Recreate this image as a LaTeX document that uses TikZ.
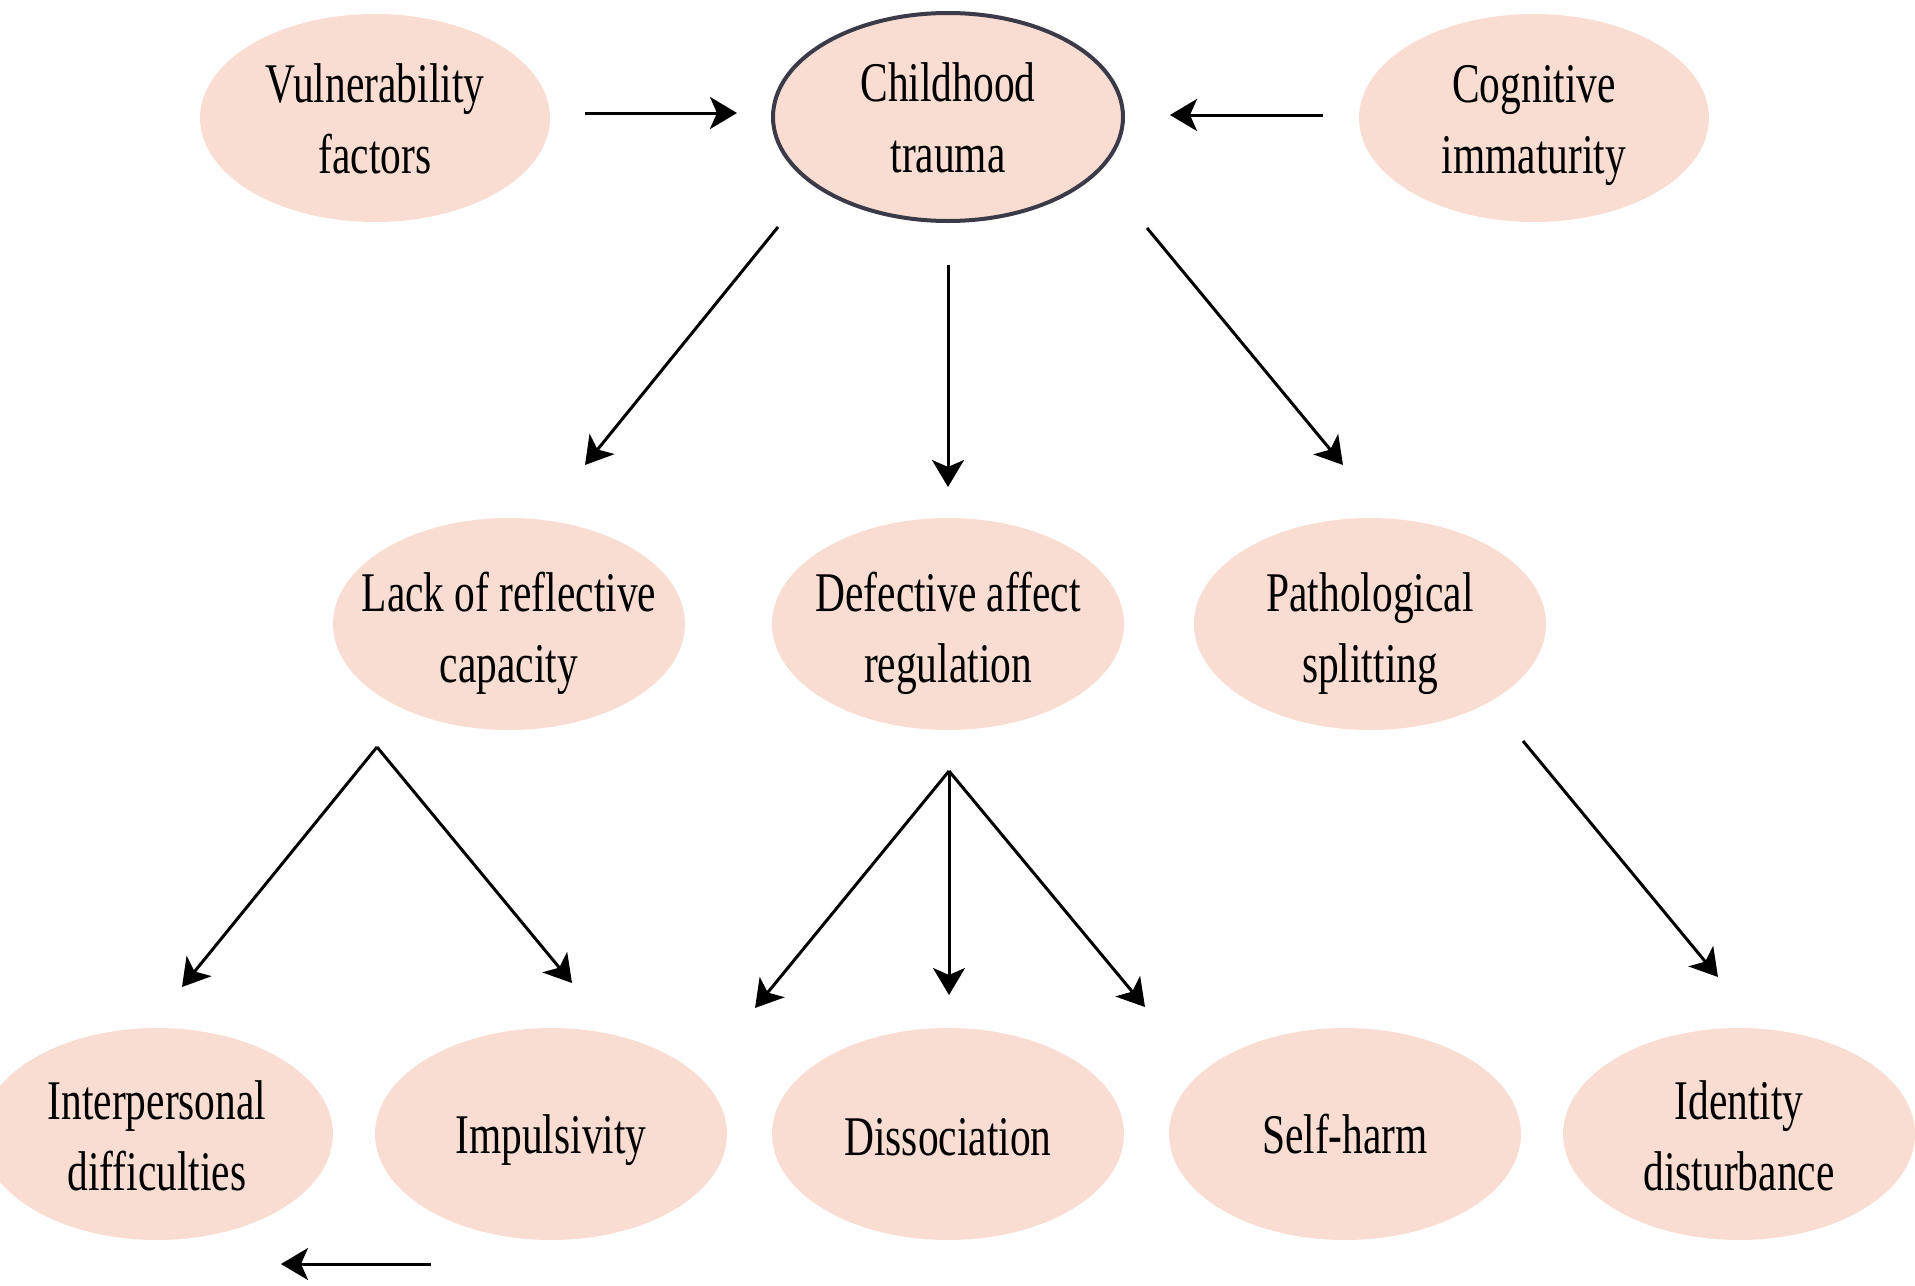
\documentclass[tikz,border=0pt]{standalone}
\usepackage{fontspec}
\newfontfamily\labelfont{Liberation Serif}[FakeStretch=0.74]
\usetikzlibrary{shapes.geometric,arrows.meta,calc}
\definecolor{peach}{RGB}{249,221,210}
\definecolor{rimgray}{RGB}{58,58,72}
% centred label of zero width, so the ellipse keeps its set size;
% the optional argument drops the lettering a little inside the shape
\newcommand\bubbletext[2][3.5pt]{%
  \makebox[0pt]{\raisebox{-#1}[\height][\depth]{%
    \begin{tabular}{@{}c@{}}#2\end{tabular}}}}
\tikzset{
  bubble/.style={ellipse, fill=peach, draw=none, inner sep=0pt,
    minimum width=176pt, minimum height=106pt,
    font=\labelfont\fontsize{28pt}{35.5pt}\selectfont},
  topbubble/.style={bubble, minimum width=175pt, minimum height=104pt},
  keybubble/.style={topbubble, draw=rimgray, line width=2pt},
  link/.style={line width=1.5pt, black,
    -{Stealth[length=13.5pt,width=16pt,inset=3.5pt]}}
}
\begin{document}
\begin{tikzpicture}[x=0.5pt,y=-0.5pt]
\useasboundingbox (0,0) rectangle (1915,1285);

% top row
\node[topbubble] (vul) at (375,118) {\bubbletext[3pt]{Vulnerability\\factors}};
\node[keybubble] (ct)  at (948,117) {\bubbletext[3pt]{Childhood\\trauma}};
\node[topbubble] (cog) at (1534,118) {\bubbletext[3pt]{Cognitive\\immaturity}};

% middle row
\node[bubble] (lrc) at (509,624) {\bubbletext[4.5pt]{Lack of reflective\\capacity}};
\node[bubble] (dar) at (948,624) {\bubbletext[4.5pt]{Defective affect\\regulation}};
\node[bubble] (ps)  at (1370,624) {\bubbletext[4.5pt]{Pathological\\splitting}};

% bottom row
\node[bubble] (ipd) at (157,1134) {\bubbletext{Interpersonal\\difficulties}};
\node[bubble] (imp) at (551,1134) {\bubbletext[2.5pt]{Impulsivity}};
\node[bubble] (dis) at (948,1134) {\bubbletext{Dissociation}};
\node[bubble] (sh)  at (1345,1134) {\bubbletext[2.5pt]{Self-harm}};
\node[bubble] (id)  at (1739,1134) {\bubbletext{Identity\\disturbance}};

% connectors
\draw[link] ($(vul)+(210,-5)$) -- ($(ct)+(-211,-4)$);
\draw[link] ($(cog)+(-211,-3)$) -- ($(ct)+(222,-2)$);

\draw[link] ($(ct)+(-170,110)$) -- ($(lrc)+(76,-159)$);
\draw[link] ($(ct)+(0,148)$) -- ($(dar)+(0,-137)$);
\draw[link] ($(ct)+(199,111)$) -- ($(ps)+(-27,-159)$);

\coordinate (lrcfork) at ($(lrc)+(-132,123)$);
\draw[link] (lrcfork) -- ($(ipd)+(25,-147)$);
\draw[link] (lrcfork) -- ($(imp)+(21,-151)$);

\coordinate (darfork) at ($(dar)+(1,147)$);
\draw[link] (darfork) -- ($(dis)+(-193,-126)$);
\draw[link] (darfork) -- ($(dis)+(1,-139)$);
\draw[link] (darfork) -- ($(sh)+(-200,-127)$);

\draw[link] ($(ps)+(153,117)$) -- ($(id)+(-21,-157)$);

\draw[link] ($(imp)+(-120,130)$) -- ($(ipd)+(124,130)$);
\end{tikzpicture}
\end{document}
